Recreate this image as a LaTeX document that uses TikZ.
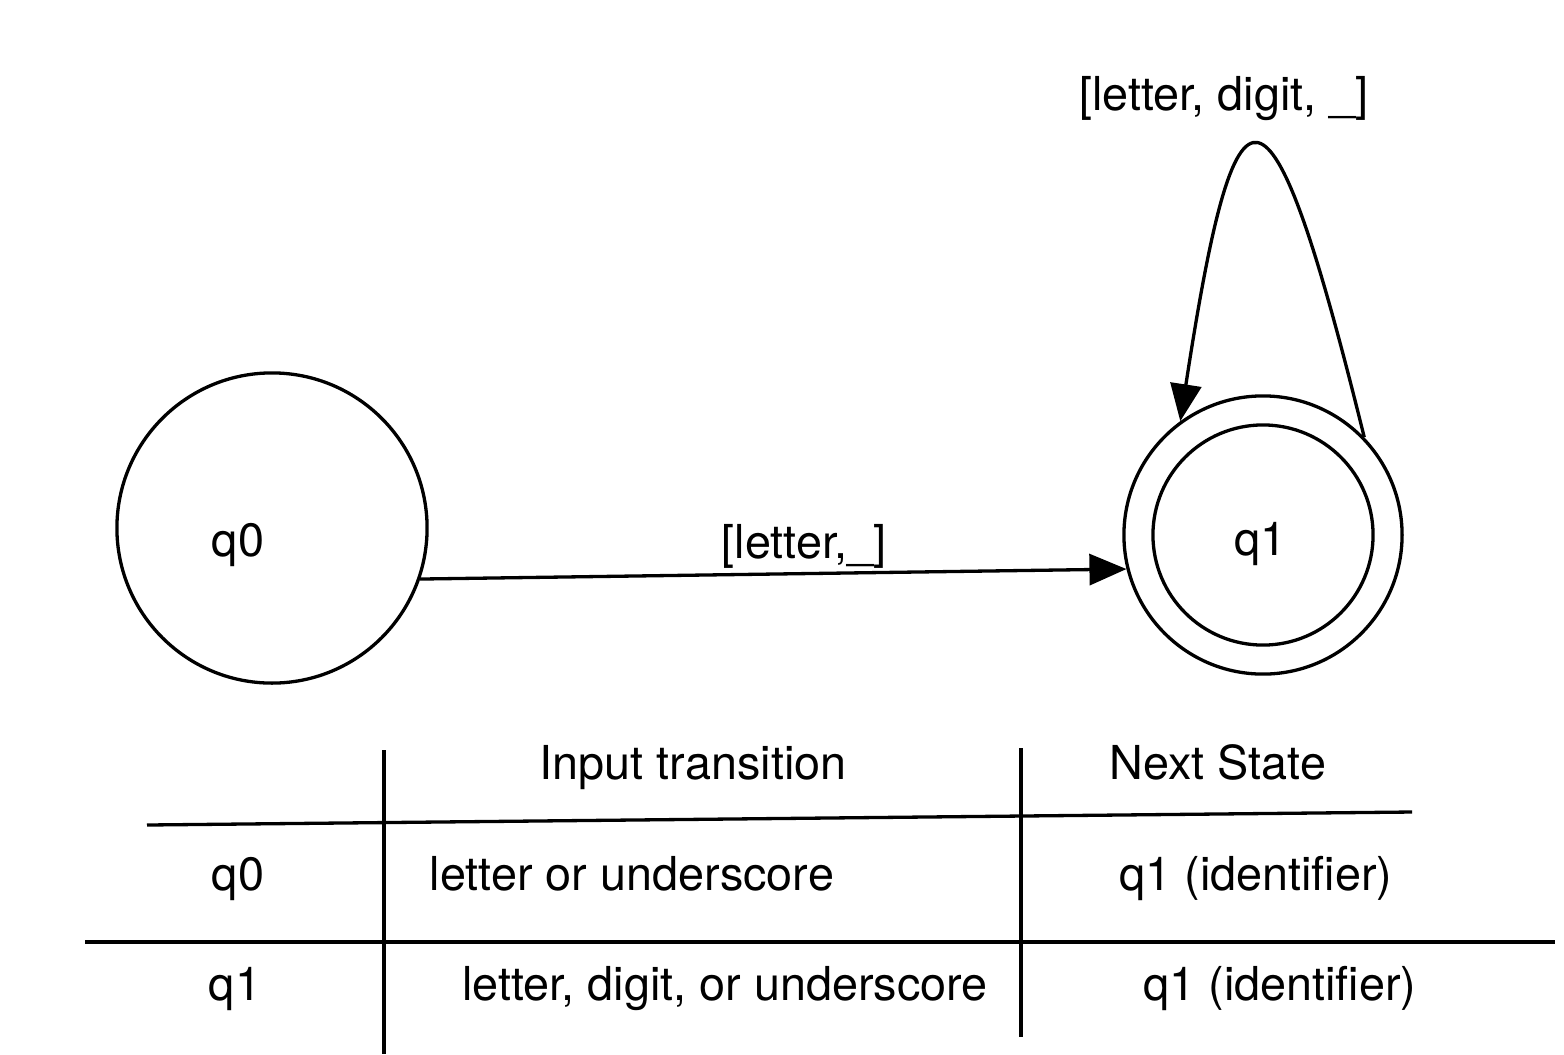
\documentclass[tikz,border=0pt]{standalone}
\usepackage{fontspec}
\setmainfont{TeX Gyre Heros}
\usetikzlibrary{arrows.meta}

\begin{document}
\begin{tikzpicture}[x=0.01cm, y=-0.01cm, line width=0.033cm,
    >={Triangle[length=0.37cm, width=0.31cm]},
    state/.style={draw, circle, inner sep=0pt},
    lbl/.style={anchor=base, inner sep=0pt, font=\fontsize{13.3pt}{16pt}\selectfont}]

        \useasboundingbox (0,0) rectangle (1564,1054);

        % States
        \node[state, minimum size=3.1cm] (q0) at (272,528) {};
        \node[state, minimum size=2.78cm] (q1) at (1263,535) {};
        \node[state, minimum size=2.2cm] (q1acc) at (q1) {};
        \node[lbl] (q0name) at (238,556) {q0};
        \node[lbl] (q1name) at (1260,555) {q1};

        % Transitions
        \draw[->] (q0.-19) -- (q1.194);
        \node[lbl] (t01) at (804,558) {[letter,\_]};
        \draw[->] (q1.44) .. controls (1268,48) and (1236,58) .. (q1.126);
        \node[lbl] (t11) at (1224,110) {[letter, digit, \_]};

        % Transition table
        \draw (384,750) -- (384,1054);
        \draw (1021,748) -- (1021,1037);
        \draw (147,825) -- (1412,812);
        \draw (85,942) -- (1555,942);

        \node[lbl] (hinput) at (693,779) {Input transition};
        \node[lbl] (hnext) at (1218,779) {Next State};

        \node[lbl] (rq0) at (238,890) {q0};
        \node[lbl] (rq0in) at (632,890) {letter or underscore};
        \node[lbl] (rq0next) at (1256,890) {q1 (identifier)};

        \node[lbl] (rq1) at (235,1000) {q1};
        \node[lbl] (rq1in) at (725,1000) {letter, digit, or underscore};
        \node[lbl] (rq1next) at (1280,1000) {q1 (identifier)};

\end{tikzpicture}
\end{document}
